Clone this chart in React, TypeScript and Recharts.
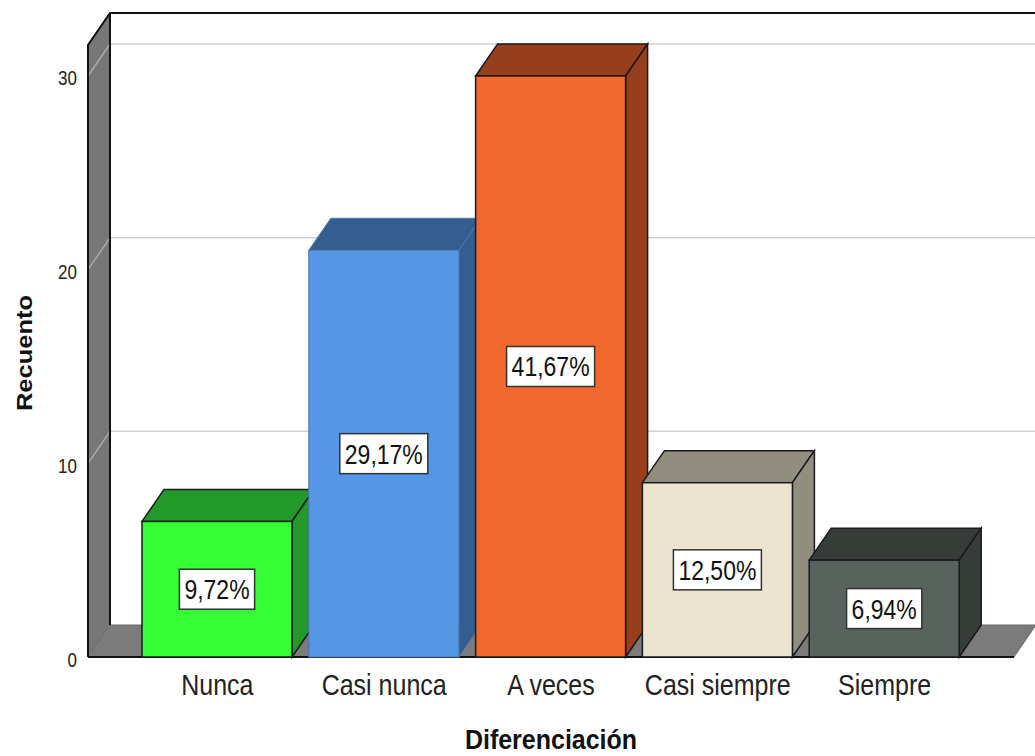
import React from 'react';
import { BarChart, Bar, XAxis, YAxis, ReferenceArea, LabelList } from 'recharts';

const categories = ['Nunca', 'Casi nunca', 'A veces', 'Casi siempre', 'Siempre'];
const counts = [7, 21, 30, 9, 5];
const yTicks = [0, 10, 20, 30];
const yMax = 31.6;

const frontColors = ['#33FF33', '#5596E5', '#F2672C', '#EAE4D0', '#59635E'];
const shadeColors = ['#22992A', '#345E8F', '#973F1C', '#918E80', '#363C38'];
const edgeColors = ['#1a1a1a', '#4a78b0', '#1a1a1a', '#1a1a1a', '#1a1a1a'];

const total = counts.reduce((a, b) => a + b, 0);
const data = categories.map((name, i) => ({
    name,
    count: counts[i],
    pct: ((counts[i] / total) * 100).toFixed(2).replace('.', ',') + '%',
}));

const W = 1035;
const H = 756;
const DX = 22; // depth offset of the 3D look
const DY = -32;
const SIDE = 46; // how far the floor runs past the outer bars
const FONT = '"Liberation Sans", Arial, sans-serif';

// rough Arial widths, used to size the label boxes
const charW = (c: string) => (c === ',' ? 0.278 : c === '%' ? 0.889 : 0.556);
const textWidth = (s: string, size: number) => s.split('').reduce((a, c) => a + charW(c), 0) * size;

const Walls = (props: any) => {
    const { x, y, width, height } = props;
    const x0 = x - SIDE;
    const x1 = x + width + SIDE;
    const top = y;
    const bot = y + height;
    const pos = (v: number) => bot - (v / yMax) * height;
    return (
        <g>
            <polygon
                points={`${x0},${top} ${x0 + DX},${top + DY} ${x0 + DX},${bot + DY} ${x0},${bot}`}
                fill="#777"
            />
            <polygon
                points={`${x0},${bot} ${x0 + DX},${bot + DY} ${x1 + DX},${bot + DY} ${x1},${bot}`}
                fill="#7b7b7b"
                stroke="#6a6a6a"
            />
            {yTicks.filter((v) => v > 0).map((v) => (
                <g key={v}>
                    <line x1={x0} y1={pos(v)} x2={x0 + DX} y2={pos(v) + DY} stroke="#aaa" strokeWidth={1.5} />
                    <line x1={x0 + DX} y1={pos(v) + DY} x2={W} y2={pos(v) + DY} stroke="#d0d0d0" strokeWidth={1.5} />
                </g>
            ))}
            <polyline
                points={`${x0},${bot} ${x0},${top} ${x0 + DX},${top + DY} ${W},${top + DY}`}
                fill="none"
                stroke="#111"
                strokeWidth={2}
            />
            <line x1={x0 + DX} y1={top + DY} x2={x0 + DX} y2={bot + DY} stroke="#111" strokeWidth={2} />
            <line x1={x0} y1={bot} x2={x1} y2={bot} stroke="#111" strokeWidth={2} />
        </g>
    );
};

const Box3D = (props: any) => {
    const { x, y, width: w, height: h, index } = props;
    const edge = edgeColors[index];
    const sw = edge === '#1a1a1a' ? 1.5 : 1;
    return (
        <g>
            <polygon
                points={`${x},${y} ${x + DX},${y + DY} ${x + w + DX},${y + DY} ${x + w},${y}`}
                fill={shadeColors[index]}
                stroke={edge}
                strokeWidth={sw}
            />
            <polygon
                points={`${x + w},${y} ${x + w + DX},${y + DY} ${x + w + DX},${y + h + DY} ${x + w},${y + h}`}
                fill={shadeColors[index]}
                stroke={edge}
                strokeWidth={sw}
            />
            <rect x={x} y={y} width={w} height={h} fill={frontColors[index]} stroke={edge} strokeWidth={sw} />
        </g>
    );
};

const PctLabel = (props: any) => {
    const vb = props.viewBox || props;
    const x = vb.x ?? props.x;
    const y = vb.y ?? props.y;
    const w = vb.width ?? props.width;
    const h = vb.height ?? props.height;
    const cx = x + w / 2;
    const cy = y + h / 2;
    const text = String(props.value);
    const size = 23;
    const bw = textWidth(text, size) + 10;
    const bh = 40;
    return (
        <g>
            <rect x={cx - bw / 2} y={cy - bh / 2} width={bw} height={bh} fill="#fff" stroke="#333" strokeWidth={1.5} />
            <g transform={`translate(${cx},${cy + 10}) scale(1,1.18)`}>
                <text x={0} y={0} textAnchor="middle" fontFamily={FONT} fontSize={size} fill="#111">
                    {text}
                </text>
            </g>
        </g>
    );
};

const XTick = (props: any) => {
    const { x, y, payload } = props;
    return (
        <g transform={`translate(${x},${y + 38}) scale(1,1.15)`}>
            <text x={0} y={0} textAnchor="middle" fontFamily={FONT} fontSize={25} fill="#222">
                {payload.value}
            </text>
        </g>
    );
};

const YTick = (props: any) => {
    const { x, y, payload } = props;
    return (
        <g transform={`translate(${x - SIDE - 11},${y + 9.5}) scale(1,1.2)`}>
            <text x={0} y={0} textAnchor="end" fontFamily={FONT} fontSize={17} fill="#222">
                {payload.value}
            </text>
        </g>
    );
};

const XTitle = (props: any) => {
    const vb = props.viewBox;
    return (
        <g transform={`translate(${vb.x + vb.width / 2},${vb.y + 92}) scale(1,1.12)`}>
            <text x={0} y={0} textAnchor="middle" fontFamily={FONT} fontSize={25} fontWeight="bold" fill="#111">
                Diferenciación
            </text>
        </g>
    );
};

const YTitle = (props: any) => {
    const vb = props.viewBox;
    return (
        <g transform={`translate(${vb.x - 42},${vb.y + vb.height / 2 + 2}) rotate(-90) scale(1.16,1)`}>
            <text x={0} y={0} textAnchor="middle" fontFamily={FONT} fontSize={22} fontWeight="bold" fill="#111">
                Recuento
            </text>
        </g>
    );
};

const App: React.FC = () => {
    return (
        <div style={{ position: 'fixed', left: 0, top: 0, width: W, height: H, background: '#fff' }}>
            <BarChart width={W} height={H} data={data} margin={{ top: 45, right: 67, bottom: 0, left: 74 }}>
                <ReferenceArea y1={0} y2={yMax} shape={Walls} ifOverflow="visible" />
                <XAxis
                    dataKey="name"
                    height={99}
                    interval={0}
                    tickLine={false}
                    axisLine={false}
                    tickSize={0}
                    tickMargin={0}
                    tick={XTick}
                    label={{ value: 'Diferenciación', content: XTitle }}
                />
                <YAxis
                    width={60}
                    domain={[0, yMax]}
                    ticks={yTicks}
                    tickLine={false}
                    axisLine={false}
                    tickSize={0}
                    tickMargin={0}
                    tick={YTick}
                    label={{ value: 'Recuento', content: YTitle }}
                />
                <Bar dataKey="count" barSize={150} shape={Box3D} isAnimationActive={false}>
                    <LabelList dataKey="pct" content={PctLabel} />
                </Bar>
            </BarChart>
        </div>
    );
};

export default App;
